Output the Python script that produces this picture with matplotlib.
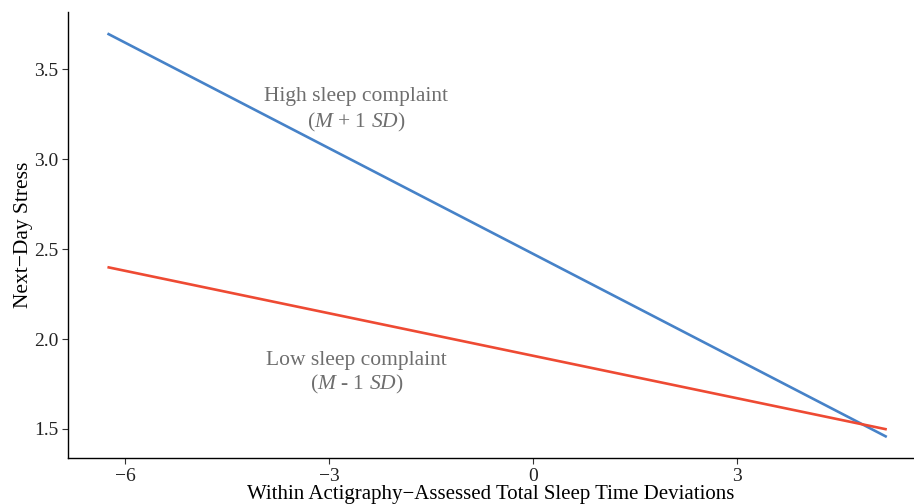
import matplotlib
matplotlib.use("Agg")
import matplotlib.pyplot as plt

plt.rcParams["font.family"] = ["Liberation Serif", "DejaVu Serif"]
plt.rcParams["mathtext.fontset"] = "custom"
plt.rcParams["mathtext.rm"] = "Liberation Serif"
plt.rcParams["mathtext.it"] = "Liberation Serif:italic"

# endpoints of the simple slopes
x_ends = [-6.26, 5.2]
high_y = [3.70, 1.455]
low_y = [2.40, 1.497]

x_ticks = [-6, -3, 0, 3]
y_ticks = [1.5, 2.0, 2.5, 3.0, 3.5]

fig = plt.figure(figsize=(9.14, 5.04), dpi=100)
ax = fig.add_axes([0.0744, 0.0913, 0.9256, 0.885])

ax.plot(x_ends, high_y, color="#4682c8", lw=1.9, solid_capstyle="butt")
ax.plot(x_ends, low_y, color="#ee4a33", lw=1.9, solid_capstyle="butt")

lab = dict(ha="center", va="center", fontsize=15.5, color="#6e6e6e")
ax.text(-2.6, 3.35, "High sleep complaint", **lab)
ax.text(-2.6, 3.205, r"($\mathit{M}$ + 1 $\mathit{SD}$)", **lab)
ax.text(-2.6, 1.88, "Low sleep complaint", **lab)
ax.text(-2.6, 1.745, r"($\mathit{M}$ - 1 $\mathit{SD}$)", **lab)

ax.set_xlim(-6.84, 5.6)
ax.set_ylim(1.338, 3.82)
ax.set_xticks(x_ticks)
ax.set_xticklabels(["\u22126", "\u22123", "0", "3"])
ax.set_yticks(y_ticks)
ax.set_yticklabels(["1.5", "2.0", "2.5", "3.0", "3.5"])

for s in ["top", "right"]:
    ax.spines[s].set_visible(False)
for s in ["left", "bottom"]:
    ax.spines[s].set_linewidth(1.0)
ax.tick_params(labelsize=14, length=4, width=0.8, colors="#333333", labelcolor="#222222", pad=3)

ax.set_xlabel("Within Actigraphy\u2212Assessed Total Sleep Time Deviations", fontsize=15, labelpad=0)
ax.set_ylabel("Next\u2212Day Stress", fontsize=15.5, labelpad=1)

fig.savefig("out.png", dpi=100)
